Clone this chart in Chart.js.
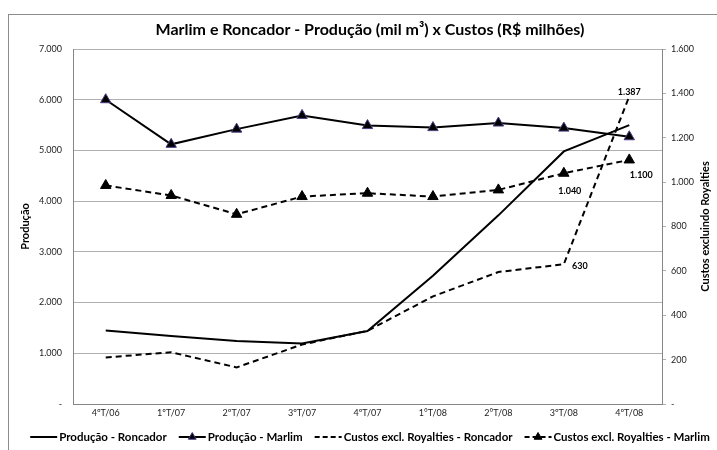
<!DOCTYPE html>
<html>
<head>
<meta charset="utf-8">
<script src="https://cdn.jsdelivr.net/npm/chart.js@4.4.1/dist/chart.umd.min.js"></script>
<style>
  body { margin: 0; background: #fff; }
</style>
</head>
<body>
<canvas id="grafico" width="717" height="450"></canvas>
<script>
// dados
const categorias = ['4ºT/06', '1ºT/07', '2ºT/07', '3ºT/07', '4ºT/07', '1°T/08', '2°T/08', '3ºT/08', '4ºT/08'];
const producaoRoncador = [1450, 1340, 1240, 1195, 1440, 2530, 3720, 4980, 5500];
const producaoMarlim = [6000, 5120, 5420, 5690, 5490, 5450, 5540, 5440, 5270];
const custosRoncador = [210, 233, 165, 268, 330, 485, 595, 630, 1387];
const custosMarlim = [985, 940, 855, 935, 950, 935, 965, 1040, 1100];

// eixos
const producaoMax = 7000, producaoPasso = 1000;
const custosMax = 1600, custosPasso = 200;

// pontos com rótulo: [dataset, índice]
const rotulos = [[2, 7], [2, 8], [3, 7], [3, 8]];

const FONTE = 'Lato, "Liberation Sans", sans-serif';

function formata(v) {
    if (v === 0) return '-';
    return String(v).replace(/\B(?=(\d{3})+(?!\d))/g, '.');
}

// moldura, título, títulos dos eixos, rótulos e legenda
const extras = {
    id: 'extras',
    beforeDraw(chart) {
        const ctx = chart.ctx;
        ctx.save();
        ctx.strokeStyle = '#8c8c8c';
        ctx.lineWidth = 1;
        ctx.strokeRect(8.5, 14.5, 760, 500);
        ctx.restore();
    },
    afterDraw(chart) {
        const ctx = chart.ctx;
        const area = chart.chartArea;
        ctx.save();
        ctx.fillStyle = '#000';
        ctx.textAlign = 'center';
        ctx.textBaseline = 'middle';

        ctx.font = 'bold 16px ' + FONTE;
        ctx.fillText('Marlim e Roncador - Produção (mil m³) x Custos (R$ milhões)', 370, 30);

        const meio = (area.top + area.bottom) / 2;
        ctx.font = 'bold 11px ' + FONTE;
        ctx.save();
        ctx.translate(25, meio);
        ctx.rotate(-Math.PI / 2);
        ctx.fillText('Produção', 0, 0);
        ctx.restore();
        ctx.save();
        ctx.translate(705, meio);
        ctx.rotate(-Math.PI / 2);
        ctx.fillText('Custos excluindo Royalties', 0, 0);
        ctx.restore();

        // rótulos de dados
        ctx.font = 'bold 9px ' + FONTE;
        const desloc = { '2,7': [16, 2], '2,8': [0, -4], '3,7': [6, 18], '3,8': [12, 15] };
        rotulos.forEach(([d, i]) => {
            const p = chart.getDatasetMeta(d).data[i];
            const v = chart.data.datasets[d].data[i];
            const o = desloc[d + ',' + i];
            ctx.fillText(formata(v), p.x + o[0], p.y + o[1]);
        });

        // legenda
        ctx.font = 'bold 11.5px ' + FONTE;
        const amostra = 27, folga = 2, entre = 12;
        const itens = chart.data.datasets.map(ds => ({ ds, w: ctx.measureText(ds.label).width }));
        const total = itens.reduce((s, it) => s + amostra + folga + it.w, 0) + entre * (itens.length - 1);
        let x = 370 - total / 2;
        const y = 437;
        ctx.textAlign = 'left';
        itens.forEach(it => {
            ctx.strokeStyle = '#000';
            ctx.lineWidth = 2;
            ctx.setLineDash(it.ds.borderDash ? [5, 3] : []);
            ctx.beginPath();
            ctx.moveTo(x, y);
            ctx.lineTo(x + amostra, y);
            ctx.stroke();
            ctx.setLineDash([]);
            if (it.ds.pointRadius > 0) {
                ctx.fillStyle = '#000';
                ctx.strokeStyle = it.ds.pointBorderColor;
                ctx.lineWidth = 1;
                Chart.helpers.drawPoint(ctx, { pointStyle: 'triangle', radius: 4.5, borderWidth: 1 }, x + amostra / 2, y);
            }
            ctx.fillStyle = '#000';
            ctx.fillText(it.ds.label, x + amostra + folga, y);
            x += amostra + folga + it.w + entre;
        });
        ctx.restore();
    }
};

const ticksFonte = { family: FONTE, size: 9 };

new Chart(document.getElementById('grafico').getContext('2d'), {
    type: 'line',
    data: {
        labels: categorias,
        datasets: [{
            label: 'Produção - Roncador',
            data: producaoRoncador,
            yAxisID: 'y',
            borderColor: '#000',
            borderWidth: 2,
            pointRadius: 0,
            tension: 0
        }, {
            label: 'Produção - Marlim',
            data: producaoMarlim,
            yAxisID: 'y',
            borderColor: '#000',
            borderWidth: 2,
            pointStyle: 'triangle',
            pointRadius: 6,
            pointBackgroundColor: '#000',
            pointBorderColor: '#4a3a80',
            pointBorderWidth: 1,
            tension: 0
        }, {
            label: 'Custos excl. Royalties - Roncador',
            data: custosRoncador,
            yAxisID: 'y2',
            borderColor: '#000',
            borderWidth: 2,
            borderDash: [6, 4],
            pointRadius: 0,
            tension: 0
        }, {
            label: 'Custos excl. Royalties - Marlim',
            data: custosMarlim,
            yAxisID: 'y2',
            borderColor: '#000',
            borderWidth: 2,
            borderDash: [6, 4],
            pointStyle: 'triangle',
            pointRadius: 6,
            pointBackgroundColor: '#000',
            pointBorderColor: '#000',
            pointBorderWidth: 1,
            tension: 0
        }]
    },
    options: {
        responsive: false,
        animation: false,
        layout: { padding: { left: 14, right: 8, top: 49, bottom: 28 } },
        plugins: {
            legend: { display: false },
            title: { display: false },
            tooltip: { enabled: false }
        },
        scales: {
            x: {
                offset: true,
                grid: { display: false, drawTicks: false },
                border: { color: '#868686' },
                ticks: { font: ticksFonte, color: '#222', padding: 4, maxRotation: 0, autoSkip: false },
                afterFit: s => { s.height = 18; }
            },
            y: {
                position: 'left',
                min: 0,
                max: producaoMax,
                grid: { color: '#b0b0b0', drawTicks: false },
                border: { color: '#868686' },
                ticks: { stepSize: producaoPasso, font: ticksFonte, color: '#222', padding: 11, callback: v => formata(v) },
                afterFit: s => { s.width = 59; }
            },
            y2: {
                position: 'right',
                min: 0,
                max: custosMax,
                grid: { drawOnChartArea: false, tickLength: 4, color: '#b0b0b0' },
                border: { color: '#868686' },
                ticks: { stepSize: custosPasso, font: ticksFonte, color: '#222', padding: 5, callback: v => formata(v) },
                afterFit: s => { s.width = 47; }
            }
        }
    },
    plugins: [extras]
});
</script>
</body>
</html>
